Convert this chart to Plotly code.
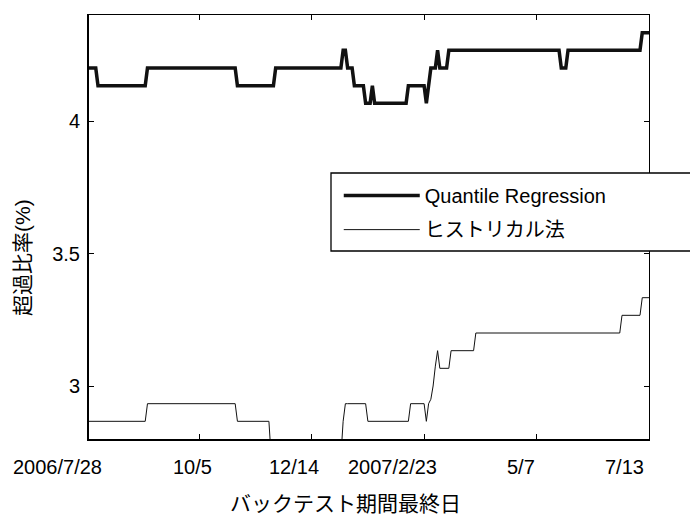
import numpy as np
import plotly.graph_objects as go

# Exceedance ratio (%) per backtest end date, stored as runs of equal values
qr_levels = [4.2, 4.1333, 4.2, 4.1333, 4.2, 4.2667, 4.2, 4.1333, 4.0667, 4.1333,
             4.0667, 4.1333, 4.0667, 4.1333, 4.2, 4.2667, 4.2, 4.2667, 4.2, 4.2667, 4.3333]
qr_runs = [4, 22, 40, 17, 30, 2, 3, 5, 3, 1, 15, 8, 1, 1, 3, 1, 4, 50, 3, 33, 4]

hist_levels = [2.8667, 2.9333, 2.8667, 2.7333, 2.8667, 2.9333, 2.8667, 2.9333, 2.8667, 2.9333,
               2.95, 3.0, 3.075, 3.1333, 3.0667, 3.1333, 3.2, 3.2667, 3.3333]
hist_runs = [26, 40, 15, 32, 1, 10, 19, 7, 1, 1, 1, 1, 1, 1, 5, 11, 65, 9, 4]

date_labels = ["2006/7/28", "10/5", "12/14", "2007/2/23", "5/7", "7/13"]
date_label_pos = [-13, 47, 92, 136, 193, 239]   # business-day index under each label
x_tick_marks = [0, 50, 100, 150, 200, 250]
y_ticks = [3, 3.5, 4]

series_names = ["Quantile Regression", "ヒストリカル法"]
x_title = "バックテスト期間最終日"
y_title = "超過比率(%)"

qr = np.repeat(qr_levels, qr_runs)
hist = np.repeat(hist_levels, hist_runs)
days = np.arange(1, len(qr) + 1)

FONT = "Liberation Sans, Noto Sans CJK JP, sans-serif"
X_RANGE = [1, 250]
Y_RANGE = [2.8, 4.4]


def x_to_paper(v):
    return (v - X_RANGE[0]) / (X_RANGE[1] - X_RANGE[0])


fig = go.Figure()
fig.add_trace(go.Scatter(x=days, y=qr, mode="lines", name=series_names[0],
                         line=dict(color="#111111", width=3.5),
                         legendgroup="a"))
fig.add_trace(go.Scatter(x=days, y=hist, mode="lines", name=series_names[1],
                         line=dict(color="#111111", width=1),
                         legendgroup="b", xaxis="x2", yaxis="y2"))

axis_common = dict(showgrid=False, zeroline=False, ticks="inside", ticklen=5,
                   tickcolor="black", linecolor="black", showline=True)

fig.update_layout(
    width=690, height=516,
    margin=dict(l=89, r=41, t=15, b=77),
    paper_bgcolor="white", plot_bgcolor="white",
    font=dict(family=FONT, size=20, color="black"),
    xaxis=dict(range=X_RANGE, tickvals=x_tick_marks, showticklabels=False,
               linewidth=2, **axis_common),
    yaxis=dict(range=Y_RANGE, tickvals=y_ticks, ticktext=[str(v) for v in y_ticks],
               linewidth=2, ticklabelstandoff=3, **axis_common),
    xaxis2=dict(range=X_RANGE, tickvals=x_tick_marks, showticklabels=False,
                overlaying="x", side="top", linewidth=1, **axis_common),
    yaxis2=dict(range=Y_RANGE, tickvals=y_ticks, showticklabels=False,
                overlaying="y", side="right", linewidth=1, **axis_common),
    showlegend=True,
    legend=dict(x=0.446, y=0.62, xanchor="left", yanchor="top",
                bgcolor="rgba(0,0,0,0)", borderwidth=0, itemwidth=76,
                tracegroupgap=5, font=dict(family=FONT, size=20)),
)

# Legend frame, extending past the right edge
fig.add_shape(type="rect", xref="paper", yref="paper",
              x0=(331 - 89) / 560, x1=(700 - 89) / 560,
              y0=(439 - 251) / 424, y1=(439 - 173) / 424,
              line=dict(color="black", width=1.3), fillcolor="white", layer="above")

# Date labels along the bottom axis
for lab, pos in zip(date_labels, date_label_pos):
    fig.add_annotation(x=x_to_paper(pos), y=-(467 - 439) / 424, xref="paper", yref="paper",
                       text=lab, showarrow=False, xanchor="center", yanchor="middle",
                       font=dict(family=FONT, size=20))

fig.add_annotation(x=(345 - 89) / 560, y=-(503 - 439) / 424, xref="paper", yref="paper",
                   text=x_title, showarrow=False, xanchor="center", yanchor="middle",
                   font=dict(family=FONT, size=21))
fig.add_annotation(x=(22 - 89) / 560, y=(439 - 258) / 424, xref="paper", yref="paper",
                   text=y_title, textangle=-90, showarrow=False,
                   xanchor="center", yanchor="middle",
                   font=dict(family=FONT, size=21))

fig.write_html("out.html")
